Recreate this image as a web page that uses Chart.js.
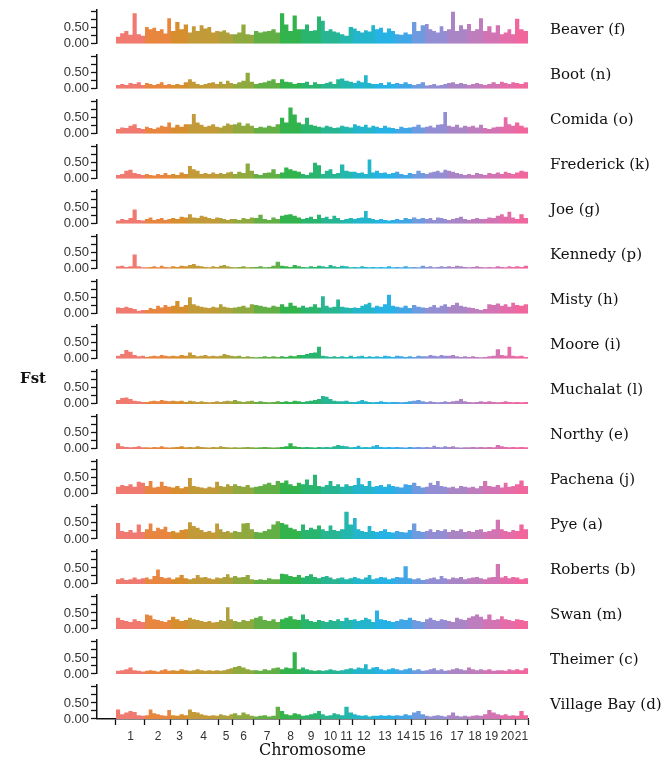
<!DOCTYPE html>
<html><head><meta charset="utf-8">
<script src="https://cdn.jsdelivr.net/npm/chart.js@4/dist/chart.umd.min.js"></script>
<style>html,body{margin:0;padding:0;background:#fff;}canvas{display:block;}</style>
</head><body>
<canvas id="c" width="668" height="762"></canvas>
<script>
// ---- data ----
const chromosomes = ['1','2','3','4','5','6','7','8','9','10','11','12','13','14','15','16','17','18','19','20','21'];
const chromLengths = [29,26,17,31,14,21,26,21,20,19,13,22,20,17,13,22,20,16,17,15,13];
const populations = ['Beaver (f)','Boot (n)','Comida (o)','Frederick (k)','Joe (g)','Kennedy (p)','Misty (h)','Moore (i)','Muchalat (l)','Northy (e)','Pachena (j)','Pye (a)','Roberts (b)','Swan (m)','Theimer (c)','Village Bay (d)'];
const yTickValues = [0, 0.25, 0.5, 0.75, 1];
const yLabelledTicks = [0, 0.5];

// Fst windows, one sub-array per chromosome
const beaver = [[0.22,0.33,0.40,0.28,0.95,0.30,0.25],[0.52,0.45,0.50,0.40,0.45,0.32,0.80],[0.40,0.68,0.45,0.60],[0.35,0.55,0.40,0.58,0.48,0.52,0.35,0.40],[0.38,0.42,0.35,0.30],[0.30,0.35,0.60,0.30,0.28],[0.40,0.35,0.38,0.40,0.45,0.35],[0.95,0.60,0.40,0.88,0.45],[0.45,0.60,0.40,0.42,0.85],[0.72,0.40,0.45,0.38,0.35],[0.30,0.25,0.52],[0.48,0.40,0.35,0.42,0.38,0.58],[0.45,0.50,0.35,0.48,0.40],[0.30,0.28,0.35,0.30],[0.68,0.40,0.58],[0.62,0.45,0.40,0.35,0.55,0.40],[0.45,1.00,0.40,0.58,0.45],[0.62,0.40,0.45,0.80],[0.40,0.55,0.35,0.58],[0.30,0.35,0.45,0.30],[0.78,0.45,0.40]];
const boot = [[0.12,0.15,0.12,0.18,0.15,0.20,0.12],[0.18,0.15,0.12,0.15,0.20,0.12,0.15],[0.12,0.15,0.12,0.20],[0.30,0.22,0.15,0.12,0.15,0.18,0.20,0.15],[0.22,0.15,0.25,0.18],[0.15,0.20,0.25,0.50,0.22],[0.15,0.18,0.20,0.25,0.30,0.18],[0.30,0.22,0.20,0.15,0.18],[0.18,0.22,0.12,0.20,0.15],[0.15,0.18,0.22,0.15,0.30],[0.32,0.25,0.22],[0.18,0.25,0.20,0.42,0.18,0.15],[0.15,0.18,0.12,0.20,0.15],[0.18,0.15,0.20,0.15],[0.12,0.15,0.20],[0.10,0.12,0.15,0.10,0.12,0.15],[0.18,0.20,0.15,0.18,0.15],[0.12,0.15,0.18,0.15],[0.12,0.15,0.20,0.15],[0.22,0.18,0.15,0.20],[0.18,0.15,0.20]];
const comida = [[0.15,0.20,0.18,0.25,0.30,0.18,0.15],[0.22,0.18,0.15,0.20,0.25,0.22,0.35],[0.20,0.28,0.22,0.30],[0.30,0.62,0.35,0.28,0.22,0.25,0.30,0.22],[0.20,0.25,0.32,0.28],[0.30,0.35,0.25,0.32,0.25],[0.18,0.22,0.20,0.25,0.22,0.30],[0.50,0.35,0.82,0.60,0.35],[0.30,0.50,0.28,0.25,0.22],[0.20,0.25,0.22,0.18,0.20],[0.25,0.22,0.20],[0.30,0.25,0.22,0.28,0.20,0.25],[0.22,0.18,0.25,0.20,0.18],[0.15,0.22,0.18,0.20],[0.22,0.28,0.20],[0.22,0.25,0.20,0.28,0.30,0.68],[0.25,0.22,0.28,0.20,0.25],[0.22,0.25,0.20,0.28],[0.18,0.15,0.20,0.22],[0.22,0.52,0.30,0.25],[0.35,0.25,0.20]];
const frederick = [[0.12,0.15,0.25,0.28,0.18,0.15,0.12],[0.15,0.12,0.10,0.15,0.12,0.18,0.12],[0.15,0.12,0.20,0.15],[0.40,0.30,0.25,0.15,0.18,0.15,0.20,0.15],[0.18,0.15,0.20,0.22],[0.15,0.22,0.18,0.48,0.25],[0.15,0.12,0.18,0.20,0.30,0.15],[0.20,0.35,0.30,0.25,0.22],[0.15,0.12,0.20,0.50,0.42],[0.15,0.25,0.30,0.15,0.18],[0.45,0.25,0.22],[0.22,0.18,0.20,0.15,0.60,0.20],[0.25,0.18,0.20,0.15,0.18],[0.22,0.15,0.12,0.18],[0.15,0.25,0.18],[0.15,0.20,0.22,0.25,0.20,0.28],[0.25,0.22,0.18,0.15,0.12],[0.15,0.12,0.18,0.15],[0.12,0.18,0.15,0.20],[0.15,0.22,0.18,0.15],[0.20,0.25,0.22]];
const joe = [[0.10,0.15,0.12,0.18,0.45,0.12,0.10],[0.15,0.20,0.12,0.15,0.18,0.12,0.15],[0.18,0.15,0.22,0.20],[0.30,0.20,0.18,0.25,0.22,0.18,0.15,0.20],[0.18,0.15,0.12,0.15],[0.15,0.12,0.18,0.15,0.20],[0.18,0.28,0.15,0.12,0.20,0.15],[0.25,0.28,0.30,0.25,0.20],[0.15,0.18,0.22,0.15,0.28],[0.18,0.22,0.15,0.25,0.18],[0.12,0.15,0.18],[0.15,0.18,0.20,0.40,0.18,0.15],[0.12,0.15,0.12,0.10,0.12],[0.15,0.12,0.18,0.15],[0.20,0.15,0.18],[0.15,0.18,0.12,0.20,0.18,0.15],[0.12,0.15,0.18,0.22,0.15],[0.12,0.15,0.18,0.15],[0.15,0.20,0.18,0.25],[0.30,0.22,0.38,0.20],[0.15,0.30,0.18]];
const kennedy = [[0.08,0.10,0.06,0.08,0.45,0.08,0.05],[0.05,0.06,0.08,0.05,0.10,0.06,0.05],[0.08,0.06,0.10,0.08],[0.12,0.15,0.10,0.08,0.06,0.05,0.08,0.06],[0.10,0.12,0.08,0.06],[0.05,0.06,0.08,0.05,0.06],[0.06,0.08,0.05,0.06,0.10,0.22],[0.10,0.08,0.06,0.12,0.08],[0.06,0.05,0.08,0.06,0.10],[0.08,0.06,0.12,0.08,0.06],[0.10,0.08,0.05],[0.06,0.05,0.08,0.06,0.05,0.06],[0.05,0.06,0.05,0.08,0.05],[0.06,0.05,0.08,0.05],[0.06,0.05,0.10],[0.06,0.08,0.05,0.06,0.08,0.06],[0.08,0.06,0.10,0.08,0.06],[0.05,0.06,0.08,0.06],[0.05,0.06,0.05,0.08],[0.06,0.05,0.08,0.06],[0.08,0.06,0.10]];
const misty = [[0.20,0.18,0.22,0.18,0.15,0.10,0.12],[0.12,0.18,0.15,0.25,0.20,0.28,0.22],[0.25,0.40,0.22,0.28],[0.52,0.30,0.25,0.22,0.20,0.18,0.22,0.20],[0.30,0.22,0.20,0.18],[0.20,0.22,0.25,0.20,0.30],[0.28,0.25,0.22,0.20,0.25,0.22],[0.30,0.22,0.35,0.25,0.20],[0.25,0.20,0.22,0.30,0.20],[0.55,0.25,0.20,0.22,0.45],[0.22,0.20,0.18],[0.20,0.18,0.25,0.30,0.35,0.20],[0.25,0.22,0.30,0.60,0.25],[0.22,0.20,0.25,0.18],[0.28,0.22,0.20],[0.18,0.22,0.28,0.20,0.25,0.30],[0.22,0.28,0.35,0.25,0.22],[0.20,0.18,0.15,0.12],[0.15,0.30,0.28,0.32],[0.25,0.30,0.22,0.35],[0.28,0.25,0.30]];
const moore = [[0.10,0.15,0.28,0.22,0.12,0.08,0.10],[0.06,0.08,0.10,0.08,0.12,0.10,0.08],[0.10,0.08,0.12,0.10],[0.20,0.12,0.08,0.10,0.12,0.08,0.10,0.08],[0.10,0.15,0.12,0.10],[0.08,0.10,0.06,0.08,0.06],[0.05,0.06,0.08,0.06,0.08,0.06],[0.08,0.06,0.10,0.08,0.12],[0.12,0.15,0.18,0.20,0.38],[0.10,0.08,0.06,0.08,0.06],[0.08,0.06,0.10],[0.06,0.08,0.10,0.06,0.08,0.06],[0.08,0.06,0.10,0.08,0.06],[0.10,0.08,0.06,0.08],[0.06,0.10,0.08],[0.08,0.12,0.10,0.08,0.12,0.10],[0.10,0.12,0.08,0.06,0.08],[0.06,0.08,0.06,0.05],[0.06,0.08,0.10,0.30],[0.12,0.10,0.38,0.10],[0.08,0.10,0.06]];
const muchalat = [[0.12,0.18,0.20,0.15,0.10,0.08,0.06],[0.06,0.08,0.10,0.08,0.12,0.10,0.08],[0.10,0.08,0.10,0.06],[0.10,0.08,0.06,0.08,0.06,0.05,0.06,0.08],[0.06,0.08,0.10,0.08],[0.12,0.08,0.06,0.08,0.10],[0.06,0.08,0.06,0.05,0.06,0.08],[0.06,0.08,0.06,0.10,0.08],[0.06,0.08,0.10,0.12,0.15],[0.25,0.22,0.15,0.10,0.08],[0.08,0.10,0.06],[0.06,0.08,0.12,0.08,0.06,0.05],[0.06,0.08,0.06,0.05,0.06],[0.06,0.05,0.06,0.08],[0.10,0.12,0.08],[0.06,0.08,0.06,0.05,0.06,0.08],[0.06,0.08,0.10,0.15,0.08],[0.06,0.05,0.06,0.08],[0.06,0.08,0.06,0.05],[0.06,0.08,0.06,0.05],[0.06,0.05,0.06]];
const northy = [[0.18,0.08,0.06,0.05,0.06,0.08,0.05],[0.05,0.04,0.06,0.05,0.08,0.05,0.04],[0.05,0.06,0.08,0.05],[0.06,0.05,0.08,0.06,0.05,0.04,0.06,0.05],[0.08,0.06,0.05,0.04],[0.05,0.04,0.05,0.06,0.05],[0.04,0.05,0.06,0.05,0.04,0.05],[0.06,0.08,0.18,0.08,0.06],[0.05,0.06,0.05,0.04,0.06],[0.05,0.06,0.05,0.08,0.12],[0.10,0.08,0.05],[0.06,0.10,0.05,0.06,0.05,0.08],[0.12,0.06,0.05,0.06,0.05],[0.06,0.05,0.04,0.06],[0.05,0.06,0.05],[0.06,0.05,0.10,0.06,0.05,0.08],[0.06,0.08,0.05,0.04,0.05],[0.05,0.06,0.05,0.06],[0.05,0.06,0.05,0.12],[0.08,0.06,0.05,0.06],[0.05,0.06,0.05]];
const pachena = [[0.22,0.28,0.25,0.30,0.22,0.38,0.35],[0.25,0.40,0.20,0.22,0.38,0.25,0.22],[0.20,0.25,0.18,0.22],[0.50,0.25,0.22,0.20,0.18,0.22,0.20,0.38],[0.25,0.22,0.30,0.25],[0.30,0.25,0.22,0.28,0.20],[0.22,0.25,0.30,0.35,0.28,0.40],[0.35,0.42,0.30,0.25,0.35],[0.30,0.45,0.28,0.60,0.25],[0.22,0.28,0.40,0.25,0.30],[0.22,0.30,0.25],[0.28,0.50,0.30,0.25,0.40,0.22],[0.25,0.28,0.22,0.30,0.25],[0.22,0.20,0.30,0.28],[0.35,0.25,0.20],[0.22,0.35,0.28,0.40,0.25,0.22],[0.20,0.22,0.18,0.25,0.22],[0.20,0.22,0.18,0.25],[0.40,0.25,0.22,0.28],[0.20,0.35,0.22,0.25],[0.30,0.42,0.25]];
const pye = [[0.50,0.25,0.22,0.28,0.20,0.45,0.22],[0.30,0.48,0.25,0.35,0.30,0.38,0.22],[0.25,0.20,0.28,0.30],[0.52,0.40,0.35,0.28,0.22,0.25,0.20,0.48],[0.30,0.22,0.25,0.20],[0.25,0.22,0.48,0.50,0.30],[0.22,0.20,0.25,0.30,0.45,0.55],[0.50,0.45,0.35,0.30,0.25],[0.45,0.28,0.35,0.30,0.42],[0.30,0.25,0.42,0.28,0.25],[0.30,0.85,0.45],[0.65,0.30,0.25,0.22,0.40,0.25],[0.22,0.25,0.30,0.22,0.20],[0.25,0.22,0.20,0.28],[0.48,0.25,0.22],[0.25,0.30,0.22,0.28,0.25,0.30],[0.22,0.28,0.25,0.30,0.22],[0.25,0.22,0.28,0.30],[0.22,0.25,0.30,0.60],[0.30,0.25,0.22,0.28],[0.25,0.45,0.30]];
const roberts = [[0.15,0.18,0.12,0.15,0.20,0.15,0.18],[0.20,0.15,0.25,0.45,0.22,0.18,0.20],[0.15,0.20,0.28,0.18],[0.15,0.18,0.28,0.20,0.22,0.18,0.15,0.20],[0.18,0.22,0.30,0.20],[0.25,0.20,0.22,0.28,0.15],[0.12,0.15,0.12,0.18,0.15,0.15],[0.32,0.30,0.25,0.22,0.28],[0.20,0.25,0.30,0.22,0.18],[0.22,0.25,0.20,0.15,0.18],[0.20,0.15,0.18],[0.22,0.18,0.15,0.20,0.28,0.15],[0.18,0.22,0.20,0.15,0.18],[0.22,0.20,0.55,0.18],[0.15,0.18,0.12],[0.15,0.18,0.20,0.15,0.25,0.18],[0.15,0.20,0.18,0.22,0.15],[0.18,0.20,0.22,0.18],[0.15,0.20,0.22,0.62],[0.20,0.25,0.18,0.22],[0.20,0.15,0.18]];
const swan = [[0.35,0.28,0.25,0.22,0.30,0.25,0.22],[0.45,0.42,0.30,0.28,0.25,0.22,0.28],[0.38,0.30,0.25,0.28],[0.35,0.30,0.28,0.25,0.22,0.25,0.20,0.22],[0.28,0.25,0.68,0.30],[0.25,0.22,0.28,0.25,0.30],[0.35,0.40,0.28,0.25,0.30,0.22],[0.30,0.35,0.40,0.30,0.28],[0.45,0.30,0.25,0.22,0.28],[0.25,0.22,0.28,0.25,0.30],[0.25,0.35,0.28],[0.30,0.25,0.28,0.35,0.30,0.22],[0.58,0.30,0.28,0.25,0.22],[0.25,0.30,0.28,0.35],[0.28,0.25,0.22],[0.30,0.35,0.28,0.25,0.30,0.28],[0.25,0.22,0.35,0.30,0.28],[0.35,0.40,0.45,0.38],[0.30,0.45,0.28,0.30],[0.40,0.30,0.28,0.25],[0.30,0.28,0.25]];
const theimer = [[0.10,0.12,0.15,0.20,0.12,0.10,0.08],[0.10,0.12,0.10,0.08,0.12,0.15,0.10],[0.12,0.10,0.15,0.12],[0.10,0.12,0.15,0.12,0.10,0.12,0.10,0.12],[0.10,0.12,0.15,0.18],[0.22,0.25,0.20,0.15,0.12],[0.12,0.10,0.15,0.12,0.18,0.20],[0.15,0.20,0.18,0.68,0.15],[0.20,0.15,0.12,0.10,0.12],[0.10,0.12,0.15,0.12,0.10],[0.12,0.15,0.18],[0.15,0.20,0.18,0.30,0.15,0.20],[0.22,0.15,0.12,0.15,0.18],[0.15,0.12,0.15,0.18],[0.12,0.15,0.10],[0.12,0.15,0.18,0.12,0.15,0.10],[0.12,0.15,0.18,0.15,0.12],[0.20,0.15,0.12,0.15],[0.12,0.15,0.10,0.12],[0.12,0.10,0.15,0.12],[0.15,0.12,0.18]];
const villageBay = [[0.30,0.15,0.20,0.25,0.22,0.12,0.10],[0.12,0.30,0.18,0.15,0.12,0.10,0.28],[0.12,0.10,0.15,0.12],[0.30,0.22,0.20,0.15,0.12,0.10,0.12,0.10],[0.15,0.12,0.10,0.15],[0.18,0.12,0.20,0.15,0.10],[0.08,0.10,0.12,0.08,0.10,0.38],[0.25,0.15,0.12,0.18,0.15],[0.10,0.12,0.15,0.18,0.25],[0.15,0.10,0.12,0.18,0.15],[0.12,0.38,0.20],[0.15,0.12,0.10,0.12,0.08,0.10],[0.10,0.12,0.10,0.12,0.10],[0.12,0.10,0.15,0.12],[0.20,0.25,0.15],[0.10,0.08,0.10,0.12,0.10,0.08],[0.12,0.20,0.10,0.08,0.10],[0.08,0.10,0.12,0.10],[0.15,0.28,0.20,0.15],[0.12,0.15,0.10,0.12],[0.10,0.25,0.12]];

const fstByPopulation = [beaver, boot, comida, frederick, joe, kennedy, misty, moore, muchalat, northy, pachena, pye, roberts, swan, theimer, villageBay];

// ---- styling ----
const chromColors = ['#F07A70','#E8853E','#D68E2E','#C39A38','#AEA13C','#90A93E','#62AF46','#33B34C','#2AB56E','#27B691','#23B7AE','#22B5CB','#26B2E4','#41A6E6','#6E9AE0','#938ED4','#AA85C6','#BE7DBC','#D274B4','#E46CA8','#F0679E'];
const PANEL_H = 34, GAP_H = 11.07;

const starts = [];
let acc = 0;
chromLengths.forEach(l => { starts.push(acc); acc += l; });
const genomeLen = acc;
const leftPad = genomeLen * 19 / 412;

const datasets = [];
fstByPopulation.forEach((pop, p) => {
  pop.forEach((wins, c) => {
    const w = chromLengths[c] / wins.length;
    const pts = wins.map((v, i) => ({x: starts[c] + i * w, y: v}));
    pts.push({x: starts[c] + chromLengths[c], y: wins[wins.length - 1]});
    datasets.push({
      data: pts, xAxisID: 'x', yAxisID: 'y' + p,
      stepped: true, fill: 'origin',
      backgroundColor: chromColors[c], borderColor: chromColors[c],
      borderWidth: 0, pointRadius: 0, tension: 0
    });
  });
});

const scales = {
  x: {
    type: 'linear', position: 'bottom', min: -leftPad, max: genomeLen,
    afterBuildTicks(scale) {
      const t = [];
      starts.forEach((s, c) => {
        t.push({value: s, kind: 'b'});
        t.push({value: s + chromLengths[c] / 2, kind: 'c', name: chromosomes[c]});
      });
      t.push({value: genomeLen, kind: 'b'});
      scale.ticks = t;
    },
    ticks: {
      autoSkip: false, maxRotation: 0, minRotation: 0, padding: 4, color: '#333',
      font: {family: 'Liberation Sans', size: 12},
      callback(v, i, ticks) { return ticks[i].kind === 'c' ? ticks[i].name : ''; }
    },
    grid: {
      drawOnChartArea: false, drawTicks: true, tickLength: 6, tickWidth: 1.3,
      tickColor: ctx => (ctx.tick && ctx.tick.kind === 'b') ? '#111' : 'rgba(0,0,0,0)'
    },
    border: {display: true, color: '#111', width: 1.5},
    title: {display: true, text: 'Chromosome', color: '#111', font: {family: 'DejaVu Serif', size: 16}, padding: {top: 0, bottom: 2}},
    afterFit(scale) { scale.height = 43; }
  }
};
populations.forEach((name, p) => {
  scales['y' + p] = {
    type: 'linear', position: 'left', stack: 'fst', stackWeight: PANEL_H, weight: 100 - 2 * p,
    min: 0, max: 1.06,
    afterBuildTicks(scale) { scale.ticks = yTickValues.map(v => ({value: v})); },
    ticks: {
      autoSkip: false, padding: 2, color: '#333',
      font: {family: 'Liberation Sans', size: 13},
      callback: v => yLabelledTicks.includes(v) ? v.toFixed(2) : ''
    },
    grid: {drawOnChartArea: false, tickLength: 6, tickColor: '#111', tickWidth: 1.3},
    border: {color: '#111', width: 1.5},
    afterFit(scale) { scale.width = 97; }
  };
  if (p < populations.length - 1) {
    scales['s' + p] = {type: 'linear', display: false, position: 'left', stack: 'fst', stackWeight: GAP_H, weight: 100 - 2 * p - 1, min: 0, max: 1};
  }
});

const panelLabels = {
  id: 'panelLabels',
  afterDraw(chart) {
    const ctx = chart.ctx;
    ctx.save();
    ctx.fillStyle = '#111';
    ctx.textBaseline = 'middle';
    ctx.textAlign = 'left';
    ctx.font = '15px "DejaVu Serif"';
    populations.forEach((name, p) => {
      const s = chart.scales['y' + p];
      ctx.fillText(name, chart.chartArea.right + 22, s.getPixelForValue(0.42));
    });
    ctx.font = 'bold 15px "DejaVu Serif"';
    ctx.fillText('Fst', 20, (chart.chartArea.top + chart.chartArea.bottom) / 2 + 15);
    ctx.restore();
  }
};

new Chart(document.getElementById('c'), {
  type: 'line',
  data: {datasets},
  options: {
    responsive: false, animation: false, devicePixelRatio: 1,
    layout: {padding: {left: 0, right: 140, top: 9, bottom: 0}},
    plugins: {legend: {display: false}, tooltip: {enabled: false}},
    scales
  },
  plugins: [panelLabels]
});
</script>
</body></html>
